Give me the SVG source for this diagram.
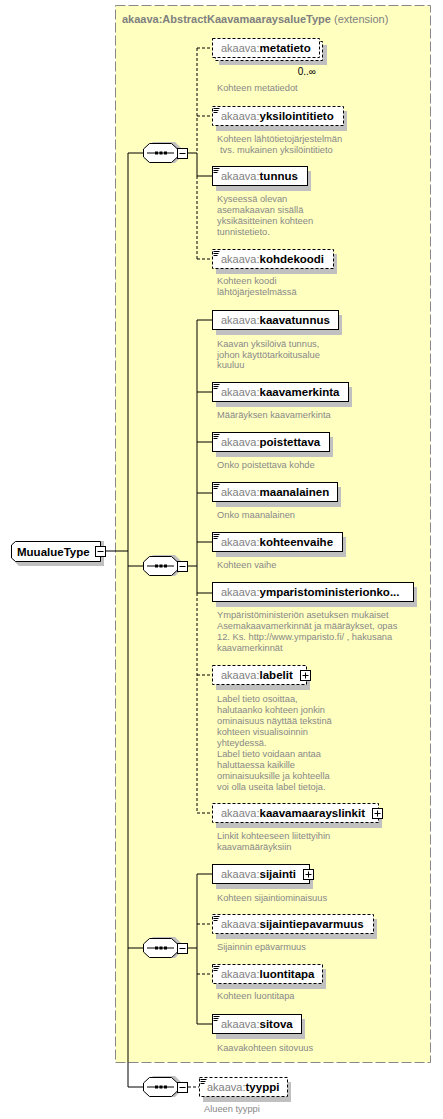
<svg xmlns="http://www.w3.org/2000/svg" width="443" height="1119" viewBox="0 0 443 1119">
<style>
.bg{fill:#fff}
.box{fill:#fff;stroke:#000;stroke-width:1}
.opt{stroke-dasharray:3,2}
.sh{fill:#c0c0c0}
.ln{stroke:#000;stroke-width:1;fill:none}
.dl{stroke-dasharray:3,2}
.nm{font-family:"Liberation Sans",Arial,sans-serif;font-size:11.5px;font-weight:bold;fill:#000}
.pf{font-weight:normal;font-size:11px;fill:#808080}
.ds{font-family:"Liberation Sans",Arial,sans-serif;font-size:9.3px;fill:#888}
.ttl{font-family:"Liberation Sans",Arial,sans-serif;font-size:11px;font-weight:bold;fill:#808080}
.occ{font-family:"Liberation Sans",Arial,sans-serif;font-size:10px;fill:#000}
</style>
<defs>
<g id="icon"><path d="M1.5 2.5h6M1.5 4.5h5M1.5 6.5h4" stroke="#000" stroke-width="1" fill="none"/></g>
<g id="plus"><rect x="0.5" y="0.5" width="10" height="10" fill="#fff" stroke="#000"/><path d="M2.5 5.5h6M5.5 2.5v6" stroke="#000"/></g>
<g id="minus"><rect x="0.5" y="0.5" width="10" height="10" fill="#fff" stroke="#000"/><path d="M2.5 5.5h6" stroke="#000"/></g>
<g id="seq">
<path d="M4 5 L10 -1 L32 -1 L38 5 L38 14 L32 20 L10 20 L4 14 Z" fill="#c0c0c0"/>
<path d="M0.5 6 L6.5 0.5 L28.5 0.5 L34.5 6 L34.5 14 L28.5 19.5 L6.5 19.5 L0.5 14 Z" fill="#fff" stroke="#000"/>
<path d="M4 10h27" stroke="#000"/>
<rect x="12" y="8.5" width="3" height="3" fill="#000"/><rect x="16.5" y="8.5" width="3" height="3" fill="#000"/><rect x="21" y="8.5" width="3" height="3" fill="#000"/>
</g>
</defs>
<rect width="443" height="1119" class="bg"/>

<g id="extension">
<rect x="115.5" y="5.5" width="315" height="1057" fill="#ffffc0" stroke="#888" stroke-dasharray="10,3"/>
<text class="ttl" x="122" y="23">akaava:AbstractKaavamaaraysalueType <tspan font-weight="normal">(extension)</tspan></text>
</g>

<g id="connectors">
<path class="ln" d="M105 551H128M128 153V1087M128 153H143M128 566H143M128 948H143M128 1087H143"/>
<path class="ln" d="M188 153H197M188 566H197M188 948H197"/>
<path class="ln dl" d="M188 1087H199"/>
<path class="ln dl" d="M197 48V153M197 176V259M197 48H212M197 116H212M197 259H212"/>
<path class="ln" d="M197 153V176H212"/>
<path class="ln" d="M197 320V593M197 320H212M197 392H212M197 442H212M197 493H212M197 542H212M197 593H212"/>
<path class="ln dl" d="M197 593V813M197 675H212M197 813H212"/>
<path class="ln" d="M197 874V1024M197 874H212M197 1024H212"/>
<path class="ln dl" d="M197 924H212M197 974H212"/>
</g>

<g id="MuualueType">
<path d="M15 545 L19 541 L104 541 L104 566 L19 566 L15 562 Z" fill="#c0c0c0"/>
<path d="M11.5 545 L15.5 541.5 L100.5 541.5 L100.5 561.5 L15.5 561.5 L11.5 558 Z" fill="#fff" stroke="#000"/>
<text class="nm" x="17" y="555.5" font-size="11px">MuualueType</text>
<use href="#minus" x="95" y="546"/>
</g>

<g id="seq1"><use href="#seq" x="143" y="143"/><use href="#minus" x="177" y="148"/></g>
<g id="seq2"><use href="#seq" x="143" y="556"/><use href="#minus" x="177" y="561"/></g>
<g id="seq3"><use href="#seq" x="143" y="938"/><use href="#minus" x="177" y="943"/></g>
<g id="seq4"><use href="#seq" x="143" y="1077"/><use href="#minus" x="177" y="1082"/></g>

<g id="metatieto">
<rect class="sh" x="219" y="45" width="108" height="20"/>
<rect class="box opt" x="215.5" y="41.5" width="107" height="19"/>
<rect class="box opt" x="212.5" y="38.5" width="107" height="19"/>
<text class="nm" x="221" y="52"><tspan class="pf">akaava:</tspan>metatieto</text>
<text class="occ" x="316" y="75" text-anchor="end">0..∞</text>
<text class="ds" x="217" y="91">Kohteen metatiedot</text>
</g>

<g id="yksilointitieto">
<rect class="sh" x="216" y="111" width="131" height="20"/>
<rect class="box opt" x="212.5" y="106.5" width="131" height="19"/>
<use href="#icon" x="212" y="106"/>
<text class="nm" x="221" y="120"><tspan class="pf">akaava:</tspan>yksilointitieto</text>
<text class="ds" x="217" y="142">Kohteen lähtötietojärjestelmän</text>
<text class="ds" x="220" y="153">tvs. mukainen yksilöintitieto</text>
</g>

<g id="tunnus">
<rect class="sh" x="216" y="171" width="95" height="20"/>
<rect class="box" x="212.5" y="166.5" width="95" height="19"/>
<use href="#icon" x="212" y="166"/>
<text class="nm" x="221" y="180"><tspan class="pf">akaava:</tspan>tunnus</text>
<text class="ds" x="217" y="201.5">Kyseessä olevan</text>
<text class="ds" x="217" y="212.5">asemakaavan sisällä</text>
<text class="ds" x="217" y="223.5">yksikäsitteinen kohteen</text>
<text class="ds" x="217" y="234.5">tunnistetieto.</text>
</g>

<g id="kohdekoodi">
<rect class="sh" x="216" y="254" width="121" height="20"/>
<rect class="box opt" x="212.5" y="249.5" width="121" height="19"/>
<use href="#icon" x="212" y="249"/>
<text class="nm" x="221" y="263"><tspan class="pf">akaava:</tspan>kohdekoodi</text>
<text class="ds" x="217" y="284">Kohteen koodi</text>
<text class="ds" x="217" y="295">lähtöjärjestelmässä</text>
</g>

<g id="kaavatunnus">
<rect class="sh" x="216" y="315" width="126" height="20"/>
<rect class="box" x="212.5" y="310.5" width="126" height="19"/>
<text class="nm" x="221" y="324"><tspan class="pf">akaava:</tspan>kaavatunnus</text>
<text class="ds" x="217" y="346.5">Kaavan yksilöivä tunnus,</text>
<text class="ds" x="217" y="357.5">johon käyttötarkoitusalue</text>
<text class="ds" x="217" y="368">kuuluu</text>
</g>

<g id="kaavamerkinta">
<rect class="sh" x="216" y="387" width="136" height="20"/>
<rect class="box" x="212.5" y="382.5" width="136" height="19"/>
<use href="#icon" x="212" y="382"/>
<text class="nm" x="221" y="396"><tspan class="pf">akaava:</tspan>kaavamerkinta</text>
<text class="ds" x="217" y="418">Määräyksen kaavamerkinta</text>
</g>

<g id="poistettava">
<rect class="sh" x="216" y="437" width="117" height="20"/>
<rect class="box" x="212.5" y="432.5" width="117" height="19"/>
<use href="#icon" x="212" y="432"/>
<text class="nm" x="221" y="446"><tspan class="pf">akaava:</tspan>poistettava</text>
<text class="ds" x="217" y="468">Onko poistettava kohde</text>
</g>

<g id="maanalainen">
<rect class="sh" x="216" y="487" width="125" height="20"/>
<rect class="box" x="212.5" y="482.5" width="125" height="19"/>
<use href="#icon" x="212" y="482"/>
<text class="nm" x="221" y="496"><tspan class="pf">akaava:</tspan>maanalainen</text>
<text class="ds" x="217" y="517.5">Onko maanalainen</text>
</g>

<g id="kohteenvaihe">
<rect class="sh" x="216" y="537" width="130" height="20"/>
<rect class="box" x="212.5" y="532.5" width="130" height="19"/>
<use href="#icon" x="212" y="532"/>
<text class="nm" x="221" y="546"><tspan class="pf">akaava:</tspan>kohteenvaihe</text>
<text class="ds" x="217" y="568">Kohteen vaihe</text>
</g>

<g id="ymparistoministerionko">
<rect class="sh" x="216" y="587" width="201" height="20"/>
<rect class="box" x="212.5" y="582.5" width="201" height="19"/>
<text class="nm" x="221" y="596"><tspan class="pf">akaava:</tspan>ymparistoministerionko...</text>
<text class="ds" x="217" y="618">Ympäristöministeriön asetuksen mukaiset</text>
<text class="ds" x="217" y="629">Asemakaavamerkinnät ja määräykset, opas</text>
<text class="ds" x="217" y="640">12. Ks. http://www.ymparisto.fi/ , hakusana</text>
<text class="ds" x="217" y="651">kaavamerkinnät</text>
</g>

<g id="labelit">
<rect class="sh" x="216" y="670" width="94" height="20"/>
<rect class="box opt" x="212.5" y="665.5" width="94" height="19"/>
<text class="nm" x="221" y="679"><tspan class="pf">akaava:</tspan>labelit</text>
<use href="#plus" x="300" y="670"/>
<text class="ds" x="217" y="701.5">Label tieto osoittaa,</text>
<text class="ds" x="217" y="712.5">halutaanko kohteen jonkin</text>
<text class="ds" x="217" y="723.5">ominaisuus näyttää tekstinä</text>
<text class="ds" x="217" y="734.5">kohteen visualisoinnin</text>
<text class="ds" x="217" y="745.5">yhteydessä.</text>
<text class="ds" x="217" y="756.5">Label tieto voidaan antaa</text>
<text class="ds" x="217" y="767.5">haluttaessa kaikille</text>
<text class="ds" x="217" y="778.5">ominaisuuksille ja kohteella</text>
<text class="ds" x="217" y="789.5">voi olla useita label tietoja.</text>
</g>

<g id="kaavamaarayslinkit">
<rect class="sh" x="216" y="808" width="166" height="20"/>
<rect class="box opt" x="212.5" y="803.5" width="166" height="19"/>
<text class="nm" x="221" y="817"><tspan class="pf">akaava:</tspan>kaavamaarayslinkit</text>
<use href="#plus" x="372" y="808"/>
<text class="ds" x="217" y="839">Linkit kohteeseen liitettyihin</text>
<text class="ds" x="217" y="850">kaavamääräyksiin</text>
</g>

<g id="sijainti">
<rect class="sh" x="216" y="869" width="97" height="20"/>
<rect class="box" x="212.5" y="864.5" width="97" height="19"/>
<text class="nm" x="221" y="878"><tspan class="pf">akaava:</tspan>sijainti</text>
<use href="#plus" x="303" y="869"/>
<text class="ds" x="217" y="900.5">Kohteen sijaintiominaisuus</text>
</g>

<g id="sijaintiepavarmuus">
<rect class="sh" x="216" y="919" width="161" height="20"/>
<rect class="box opt" x="212.5" y="914.5" width="161" height="19"/>
<use href="#icon" x="212" y="914"/>
<text class="nm" x="221" y="928"><tspan class="pf">akaava:</tspan>sijaintiepavarmuus</text>
<text class="ds" x="217" y="950">Sijainnin epävarmuus</text>
</g>

<g id="luontitapa">
<rect class="sh" x="216" y="969" width="110" height="20"/>
<rect class="box opt" x="212.5" y="964.5" width="110" height="19"/>
<use href="#icon" x="212" y="964"/>
<text class="nm" x="221" y="978"><tspan class="pf">akaava:</tspan>luontitapa</text>
<text class="ds" x="217" y="999">Kohteen luontitapa</text>
</g>

<g id="sitova">
<rect class="sh" x="216" y="1019" width="89" height="20"/>
<rect class="box" x="212.5" y="1014.5" width="89" height="19"/>
<use href="#icon" x="212" y="1014"/>
<text class="nm" x="221" y="1028"><tspan class="pf">akaava:</tspan>sitova</text>
<text class="ds" x="217" y="1050.5">Kaavakohteen sitovuus</text>
</g>

<g id="tyyppi">
<rect class="sh" x="203" y="1082" width="88" height="20"/>
<rect class="box opt" x="199.5" y="1077.5" width="88" height="19"/>
<use href="#icon" x="199" y="1077"/>
<text class="nm" x="207" y="1091"><tspan class="pf">akaava:</tspan>tyyppi</text>
<text class="ds" x="204" y="1112">Alueen tyyppi</text>
</g>
</svg>
